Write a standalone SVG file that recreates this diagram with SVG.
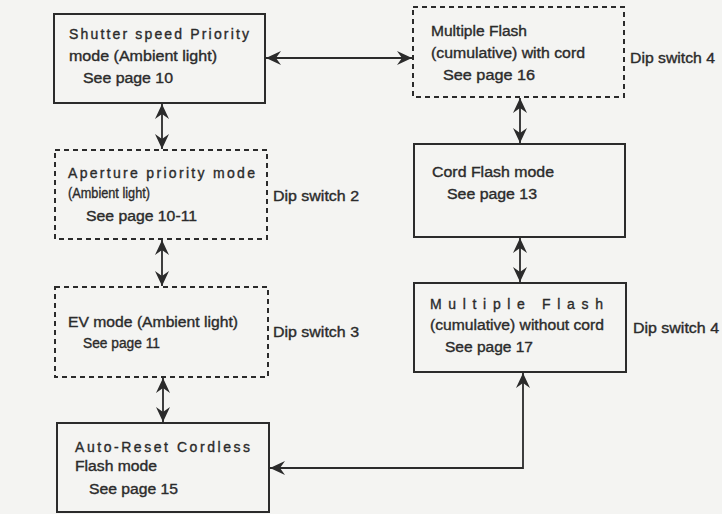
<svg xmlns="http://www.w3.org/2000/svg" width="722" height="514" viewBox="0 0 722 514">
<defs>
<marker id="ah" markerUnits="userSpaceOnUse" markerWidth="16" markerHeight="14" refX="15" refY="7" orient="auto-start-reverse">
<path d="M0,0 L15,7 L0,14 L5,7 Z" fill="#2b2b2b"/>
</marker>
<style>
.bg{fill:#f4f4f2}
.box{fill:none;stroke:#2b2b2b;stroke-width:2}
.dash{fill:none;stroke:#2b2b2b;stroke-width:2;stroke-dasharray:5 4}
.t{font-family:"Liberation Sans",Arial,sans-serif;font-size:14px;fill:#2b2b2b;stroke:#2b2b2b;stroke-width:0.35}
.c{fill:none;stroke:#2b2b2b;stroke-width:1.8}
</style>
</defs>
<rect class="bg" x="0" y="0" width="722" height="514"/>
<g id="connectors">
<line class="c" x1="266" y1="58" x2="412" y2="58" marker-start="url(#ah)" marker-end="url(#ah)"/>
<line class="c" x1="162" y1="104" x2="162" y2="149" marker-start="url(#ah)" marker-end="url(#ah)"/>
<line class="c" x1="162" y1="240" x2="162" y2="286" marker-start="url(#ah)" marker-end="url(#ah)"/>
<line class="c" x1="163" y1="378" x2="163" y2="422" marker-start="url(#ah)" marker-end="url(#ah)"/>
<line class="c" x1="520" y1="98" x2="520" y2="143" marker-start="url(#ah)" marker-end="url(#ah)"/>
<line class="c" x1="520" y1="238" x2="520" y2="282" marker-start="url(#ah)" marker-end="url(#ah)"/>
<polyline class="c" points="523,373 523,468 270,468" marker-start="url(#ah)" marker-end="url(#ah)"/>
</g>
<g id="shutter">
<rect class="box" x="54" y="14" width="211" height="89"/>
<text class="t" x="69" y="39" textLength="180" lengthAdjust="spacing">Shutter speed Priority</text>
<text class="t" x="69" y="61" textLength="148" lengthAdjust="spacingAndGlyphs">mode (Ambient light)</text>
<text class="t" x="83" y="83" textLength="90" lengthAdjust="spacingAndGlyphs">See page 10</text>
</g>
<g id="aperture">
<rect class="dash" x="55" y="150" width="212" height="89"/>
<text class="t" x="68" y="178" textLength="187" lengthAdjust="spacing">Aperture priority mode</text>
<text class="t" x="68" y="198" textLength="82" lengthAdjust="spacingAndGlyphs">(Ambient light)</text>
<text class="t" x="86" y="221" textLength="111" lengthAdjust="spacingAndGlyphs">See page 10-11</text>
<text class="t" x="273" y="201" textLength="86" lengthAdjust="spacingAndGlyphs">Dip switch 2</text>
</g>
<g id="ev">
<rect class="dash" x="55" y="287" width="213" height="90"/>
<text class="t" x="68" y="327" textLength="170" lengthAdjust="spacingAndGlyphs">EV mode (Ambient light)</text>
<text class="t" x="83" y="348" textLength="77" lengthAdjust="spacingAndGlyphs">See page 11</text>
<text class="t" x="273" y="337" textLength="86" lengthAdjust="spacingAndGlyphs">Dip switch 3</text>
</g>
<g id="autoreset">
<rect class="box" x="57" y="423" width="212" height="89"/>
<text class="t" x="75" y="452" textLength="175" lengthAdjust="spacing">Auto-Reset Cordless</text>
<text class="t" x="75" y="471" textLength="82" lengthAdjust="spacingAndGlyphs">Flash mode</text>
<text class="t" x="89" y="494" textLength="89" lengthAdjust="spacingAndGlyphs">See page 15</text>
</g>
<g id="multi-cord">
<rect class="dash" x="413" y="7" width="211" height="90"/>
<text class="t" x="431" y="36" textLength="96" lengthAdjust="spacingAndGlyphs">Multiple Flash</text>
<text class="t" x="431" y="58" textLength="154" lengthAdjust="spacingAndGlyphs">(cumulative) with cord</text>
<text class="t" x="443" y="80" textLength="92" lengthAdjust="spacingAndGlyphs">See page 16</text>
<text class="t" x="630" y="63" textLength="85" lengthAdjust="spacingAndGlyphs">Dip switch 4</text>
</g>
<g id="cord">
<rect class="box" x="414" y="144" width="211" height="93"/>
<text class="t" x="432" y="177" textLength="122" lengthAdjust="spacingAndGlyphs">Cord Flash mode</text>
<text class="t" x="447" y="199" textLength="90" lengthAdjust="spacingAndGlyphs">See page 13</text>
</g>
<g id="multi-nocord">
<rect class="box" x="414" y="283" width="212" height="89"/>
<text class="t" x="430" y="309" textLength="173" lengthAdjust="spacing">Multiple   Flash</text>
<text class="t" x="430" y="330" textLength="174" lengthAdjust="spacingAndGlyphs">(cumulative) without cord</text>
<text class="t" x="445" y="352" textLength="88" lengthAdjust="spacingAndGlyphs">See page 17</text>
<text class="t" x="633" y="333" textLength="86" lengthAdjust="spacingAndGlyphs">Dip switch 4</text>
</g>
</svg>
